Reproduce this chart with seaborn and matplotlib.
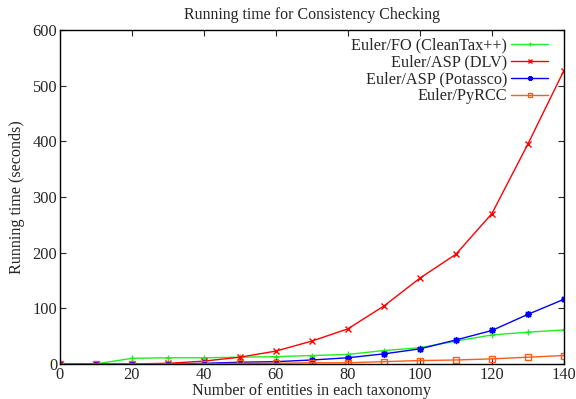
import numpy as np
import pandas as pd
import seaborn as sns
import matplotlib.pyplot as plt

# data
entities = [0, 10, 20, 30, 40, 50, 60, 70, 80, 90, 100, 110, 120, 130, 140]
fo_cleantax = [0, 0, 10, 11, 11, 12, 13, 15, 17, 24, 29, 41, 52, 57, 61]
asp_dlv = [0, 0, 0, 1, 5, 12, 23, 41, 63, 104, 154, 197, 270, 395, 527]
asp_potassco = [0, 0, 0, 0, 1, 3, 4, 7, 11, 18, 27, 43, 60, 89, 116]
pyrcc = [0, 0, 0, 0, 0, 1, 1, 2, 2, 4, 6, 7, 9, 12, 15]

series = ["Euler/FO (CleanTax++)", "Euler/ASP (DLV)", "Euler/ASP (Potassco)", "Euler/PyRCC"]
colors = ["#22ee22", "#ff0000", "#0000ff", "#ff5a1a"]
markers = ["+", "x", (8, 2, 0), "s"]

df = pd.DataFrame({
    "entities": entities * 4,
    "time": fo_cleantax + asp_dlv + asp_potassco + pyrcc,
    "method": sum([[s] * len(entities) for s in series], []),
})

sns.set_style("ticks")
plt.rcParams["font.family"] = ["Liberation Serif", "DejaVu Serif"]
plt.rcParams["xtick.direction"] = "in"
plt.rcParams["ytick.direction"] = "in"

fig, ax = plt.subplots(figsize=(5.76, 3.99), dpi=100)
fig.subplots_adjust(left=0.104, right=0.979, top=0.925, bottom=0.088)

for s, c, m in zip(series, colors, markers):
    sub = df[df["method"] == s]
    face = "none" if m == "s" else c
    sns.lineplot(data=sub, x="entities", y="time", ax=ax, color=c, marker=m,
                 markersize=5, markerfacecolor=face, markeredgecolor=c,
                 markeredgewidth=1, linewidth=1, label=s)

ax.set_xlim(0, 140)
ax.set_ylim(0, 600)
ax.set_xticks(range(0, 141, 20))
ax.set_yticks(range(0, 601, 100))
ax.tick_params(top=True, right=True, labelsize=11.8, length=4, width=0.8, pad=2)
for sp in ax.spines.values():
    sp.set_linewidth(1)
    sp.set_color("black")

ax.set_title("Running time for Consistency Checking", fontsize=11.4, pad=8)
ax.set_xlabel("Number of entities in each taxonomy", fontsize=11.6, labelpad=0)
ax.set_ylabel("Running time (seconds)", fontsize=11.6, labelpad=5)

ax.legend(loc="upper right", bbox_to_anchor=(1.0, 1.024), frameon=False,
          markerfirst=False, fontsize=11.7, handlelength=2.3, handletextpad=0.25,
          labelspacing=0.06, borderaxespad=0.55, markerscale=0.7)

plt.savefig("out.png", dpi=100)
